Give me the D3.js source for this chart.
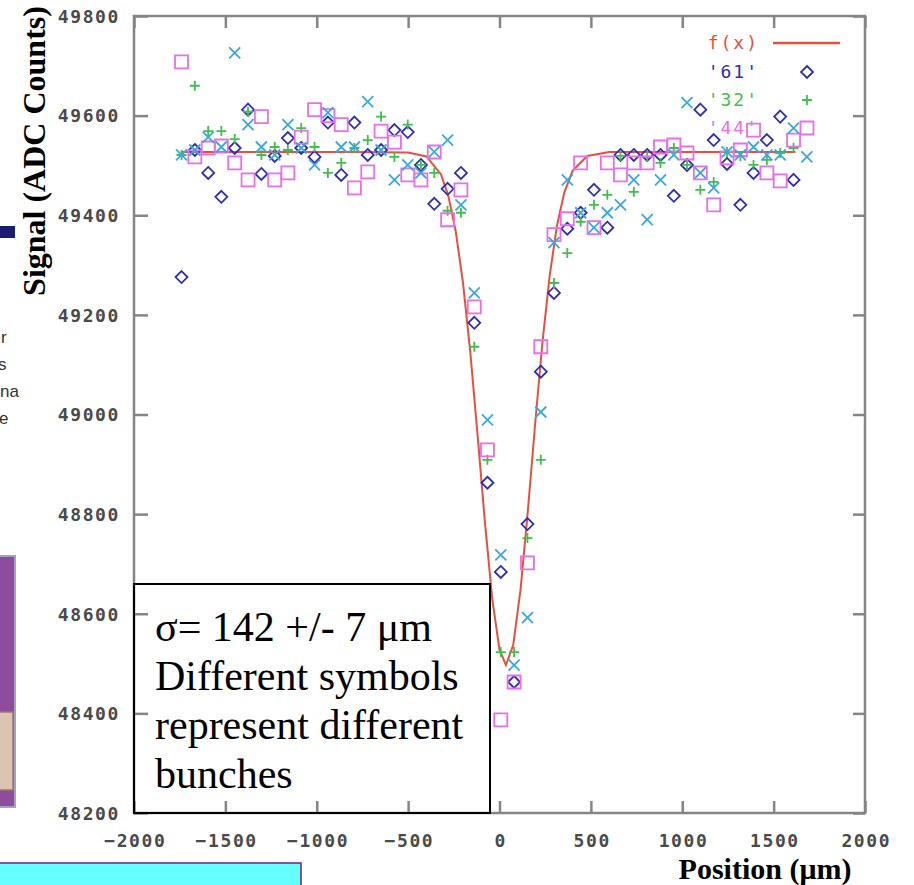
<!DOCTYPE html>
<html>
<head>
<meta charset="utf-8">
<script src="https://d3js.org/d3.v7.min.js"></script>
<style>
body { margin: 0; background: #fff; }
svg { display: block; }
.tick-label { font-family: "DejaVu Sans Mono", monospace; font-size: 18px; font-weight: bold; letter-spacing: 1.6px; fill: #4a4a4a; }
.key-label { font-family: "DejaVu Sans Mono", monospace; font-size: 18px; letter-spacing: 2px; }
.serif { font-family: "Liberation Serif", "Times New Roman", serif; fill: #000; }
</style>
</head>
<body>
<div id="chart"></div>
<script>
// scan positions (um), same for every bunch
var positions = [-1740, -1667, -1594, -1522, -1449, -1376, -1303, -1230, -1158, -1085,
    -1012, -939, -866, -794, -721, -648, -575, -502, -430, -357,
    -284, -211, -138, -66, 7, 80, 153, 226, 298, 371,
    444, 517, 590, 662, 735, 808, 881, 954, 1026, 1099,
    1172, 1245, 1318, 1390, 1463, 1536, 1609, 1682];

// signal per bunch (ADC counts), null = no point
var bunch61 = [49276, 49531, 49485, 49437, 49535, 49612, 49483, 49519, 49555, 49535,
    49517, 49586, 49481, 49586, 49521, 49531, 49571, 49567, 49501, 49423,
    49453, 49485, 49184, 48863, 48684, 48463, 48780, 49086, 49244, 49373,
    49405, 49451, 49375, 49521, 49521, 49521, 49521, 49439, 49501, 49612,
    49551, 49503, 49421, 49485, 49551, 49598, 49471, null];
var bunch32 = [49521, 49660, 49569, 49569, 49553, 49608, 49521, 49537, 49531, 49575,
    49537, 49485, 49505, 49535, 49551, 49598, 49517, 49582, 49501, 49485,
    49409, 49405, 49136, 48909, 48523, 48523, 48752, 48909, 49264, 49324,
    49387, 49421, 49441, 49519, 49447, 49517, 49505, 49535, 49501, 49451,
    49467, 49527, 49519, 49501, 49511, 49525, 49535, null];
var bunch44 = [49708, 49517, 49535, 49539, 49505, 49471, 49598, 49471, 49485, 49557,
    49612, 49600, 49582, 49455, 49487, 49569, 49547, 49481, 49471, 49527,
    49391, 49451, 49216, 48929, 48387, 48463, 48702, 49136, 49361, 49393,
    49505, 49375, 49505, 49481, 49505, 49505, 49537, 49541, 49525, 49485,
    49421, 49515, 49531, 49571, 49485, 49469, 49551, null];
var bunchX = [49521, 49531, 49557, 49537, 49726, 49582, 49537, 49521, 49582, 49535,
    49501, 49606, 49537, 49537, 49628, 49531, 49471, 49501, 49485, 49527,
    49551, 49421, 49244, 48989, 48718, 48497, 48592, 49005, 49345, 49471,
    49405, 49375, 49405, 49421, 49471, 49391, 49471, 49521, 49626, 49485,
    49455, 49527, 49521, 49537, 49521, 49521, 49575, 49517];

// fitted curve f(x)
var fitX = [-1740, -800, -500, -400, -320, -280, -240, -200, -160, -120, -80, -40, 0, 35,
    75, 115, 155, 195, 235, 275, 315, 355, 400, 480, 600, 1000, 1620];
var fitY = [49527, 49527, 49526, 49518, 49482, 49439, 49369, 49265, 49126, 48959, 48785, 48631, 48528, 48497,
    48537, 48648, 48806, 48981, 49145, 49280, 49380, 49446, 49489, 49519, 49527, 49527, 49527];

var xTicks = [-2000, -1500, -1000, -500, 0, 500, 1000, 1500, 2000];
var yTicks = [48200, 48400, 48600, 48800, 49000, 49200, 49400, 49600, 49800];
var legendLabels = ["f(x)", "'61'", "'32'", "'44'"];
var noteLines = ["\u03c3= 142 +/- 7 \u03bcm", "Different symbols", "represent different", "bunches"];

var width = 914, height = 885;
var plotLeft = 134, plotRight = 865, plotTop = 16, plotBottom = 813;

var svg = d3.select("#chart").append("svg")
    .attr("width", width)
    .attr("height", height);

// bits of the neighbouring slide at the left edge
svg.append("rect").attr("x", 0).attr("y", 226).attr("width", 15).attr("height", 12).attr("fill", "#1c1c70");
[["r", 1, 343], ["s", -2, 370], ["na", 0, 397], ["e", -1, 424]].forEach(function(t) {
    svg.append("text").attr("x", t[1]).attr("y", t[2])
        .style("font-family", "Liberation Sans, Arial, sans-serif")
        .style("font-size", "17px").style("fill", "#333").text(t[0]);
});
svg.append("rect").attr("x", -2).attr("y", 556).attr("width", 17).attr("height", 251)
    .attr("fill", "#8b4d9c").attr("stroke", "#a89cc8").attr("stroke-width", 2);
svg.append("rect").attr("x", -2).attr("y", 712).attr("width", 15).attr("height", 78)
    .attr("fill", "#dcc4b2").attr("stroke", "#9a7a6a").attr("stroke-width", 1.5);
svg.append("rect").attr("x", -2).attr("y", 863).attr("width", 303).attr("height", 30)
    .attr("fill", "#66ffff").attr("stroke", "#7a1a8a").attr("stroke-width", 1.5);

var x = d3.scaleLinear().domain([-2000, 2000]).range([plotLeft, plotRight]);
var y = d3.scaleLinear().domain([48200, 49800]).range([plotBottom, plotTop]);

// axes, ticks pointing inward on all four sides
var axisColor = "#858585";
function styleAxis(g) {
    g.select(".domain").remove();
    g.selectAll(".tick line").attr("stroke", axisColor).attr("stroke-width", 2.5);
}
svg.append("g").attr("transform", "translate(0," + plotBottom + ")")
    .call(d3.axisBottom(x).tickValues(xTicks).tickSize(-12).tickSizeOuter(0).tickFormat(d3.format("d")))
    .call(styleAxis)
    .call(function(g) {
        g.selectAll(".tick text").attr("class", "tick-label")
            .attr("y", 34).attr("dy", 0).attr("dx", 0.8);
    });
svg.append("g").attr("transform", "translate(0," + plotTop + ")")
    .call(d3.axisTop(x).tickValues(xTicks).tickSize(-12).tickSizeOuter(0).tickFormat(""))
    .call(styleAxis);
svg.append("g").attr("transform", "translate(" + plotLeft + ",0)")
    .call(d3.axisLeft(y).tickValues(yTicks).tickSize(-14).tickSizeOuter(0).tickFormat(d3.format("d")))
    .call(styleAxis)
    .call(function(g) {
        g.selectAll(".tick text").attr("class", "tick-label")
            .attr("x", -14).attr("dy", "0.35em");
    });
svg.append("g").attr("transform", "translate(" + plotRight + ",0)")
    .call(d3.axisRight(y).tickValues(yTicks).tickSize(-12).tickSizeOuter(0).tickFormat(""))
    .call(styleAxis);

svg.append("rect")
    .attr("x", plotLeft).attr("y", plotTop)
    .attr("width", plotRight - plotLeft).attr("height", plotBottom - plotTop)
    .attr("fill", "none").attr("stroke", axisColor).attr("stroke-width", 2.5);

// axis titles
svg.append("text").attr("class", "serif")
    .attr("transform", "translate(45,151) rotate(-90)")
    .attr("text-anchor", "middle")
    .style("font-size", "32px").style("font-weight", "bold")
    .text("Signal (ADC Counts)");
svg.append("text").attr("class", "serif")
    .attr("x", 765).attr("y", 879)
    .attr("text-anchor", "middle")
    .style("font-size", "30px").style("font-weight", "bold")
    .text("Position (\u03bcm)");

var colors = { fit: "#e6503c", b61: "#2e2eb4", b32: "#40bf4c", b44: "#ec6cec", bx: "#38a8e0" };

function diamond(r) { return "M0," + (-r) + "L" + r + ",0L0," + r + "L" + (-r) + ",0Z"; }
function square(r) { return "M" + (-r) + "," + (-r) + "H" + r + "V" + r + "H" + (-r) + "Z"; }
function plus(r) { return "M" + (-r) + ",0H" + r + "M0," + (-r) + "V" + r; }
function cross(r) { return "M" + (-r) + "," + (-r) + "L" + r + "," + r + "M" + (-r) + "," + r + "L" + r + "," + (-r); }

// key
var keyY = [43, 72, 100, 128];
var keyColor = [colors.fit, colors.b61, colors.b32, colors.b44];
var keyShape = [null, diamond(6), plus(5), square(6.5)];
legendLabels.forEach(function(label, i) {
    svg.append("text").attr("class", "key-label")
        .attr("x", 759).attr("y", keyY[i]).attr("dy", "0.35em")
        .attr("text-anchor", "end")
        .style("fill", keyColor[i])
        .text(label);
    if (i == 0) {
        svg.append("line").attr("x1", 773).attr("x2", 840)
            .attr("y1", keyY[i]).attr("y2", keyY[i])
            .attr("stroke", colors.fit).attr("stroke-width", 2.5);
    } else {
        svg.append("path").attr("d", keyShape[i])
            .attr("transform", "translate(807," + keyY[i] + ")")
            .attr("fill", "none").attr("stroke", keyColor[i]).attr("stroke-width", 1.8);
    }
});

// fit curve
var fitData = fitX.map(function(v, i) { return [v, fitY[i]]; });
svg.append("path")
    .datum(fitData)
    .attr("d", d3.line().x(function(d) { return x(d[0]); }).y(function(d) { return y(d[1]); }))
    .attr("fill", "none")
    .attr("stroke", colors.fit)
    .attr("stroke-width", 2);

// data points
function drawSeries(values, shape, color) {
    var pts = positions.map(function(p, i) { return [p, values[i]]; })
        .filter(function(d) { return d[1] != null; });
    svg.append("g").selectAll("path")
        .data(pts)
        .enter()
        .append("path")
        .attr("d", shape)
        .attr("transform", function(d) { return "translate(" + x(d[0]) + "," + y(d[1]) + ")"; })
        .attr("fill", "none")
        .attr("stroke", color)
        .attr("stroke-width", 1.8);
}
drawSeries(bunch61, diamond(6), colors.b61);
drawSeries(bunch32, plus(5), colors.b32);
drawSeries(bunch44, square(6.5), colors.b44);
drawSeries(bunchX, cross(5.5), colors.bx);

// note box pasted over the lower left corner
svg.append("rect")
    .attr("x", plotLeft).attr("y", 584)
    .attr("width", 490 - plotLeft).attr("height", plotBottom - 584)
    .attr("fill", "none").attr("stroke", "#000").attr("stroke-width", 2);
noteLines.forEach(function(line, i) {
    svg.append("text").attr("class", "serif")
        .attr("x", 155).attr("y", 641 + i * 49)
        .style("font-size", "42px")
        .text(line);
});
</script>
</body>
</html>
